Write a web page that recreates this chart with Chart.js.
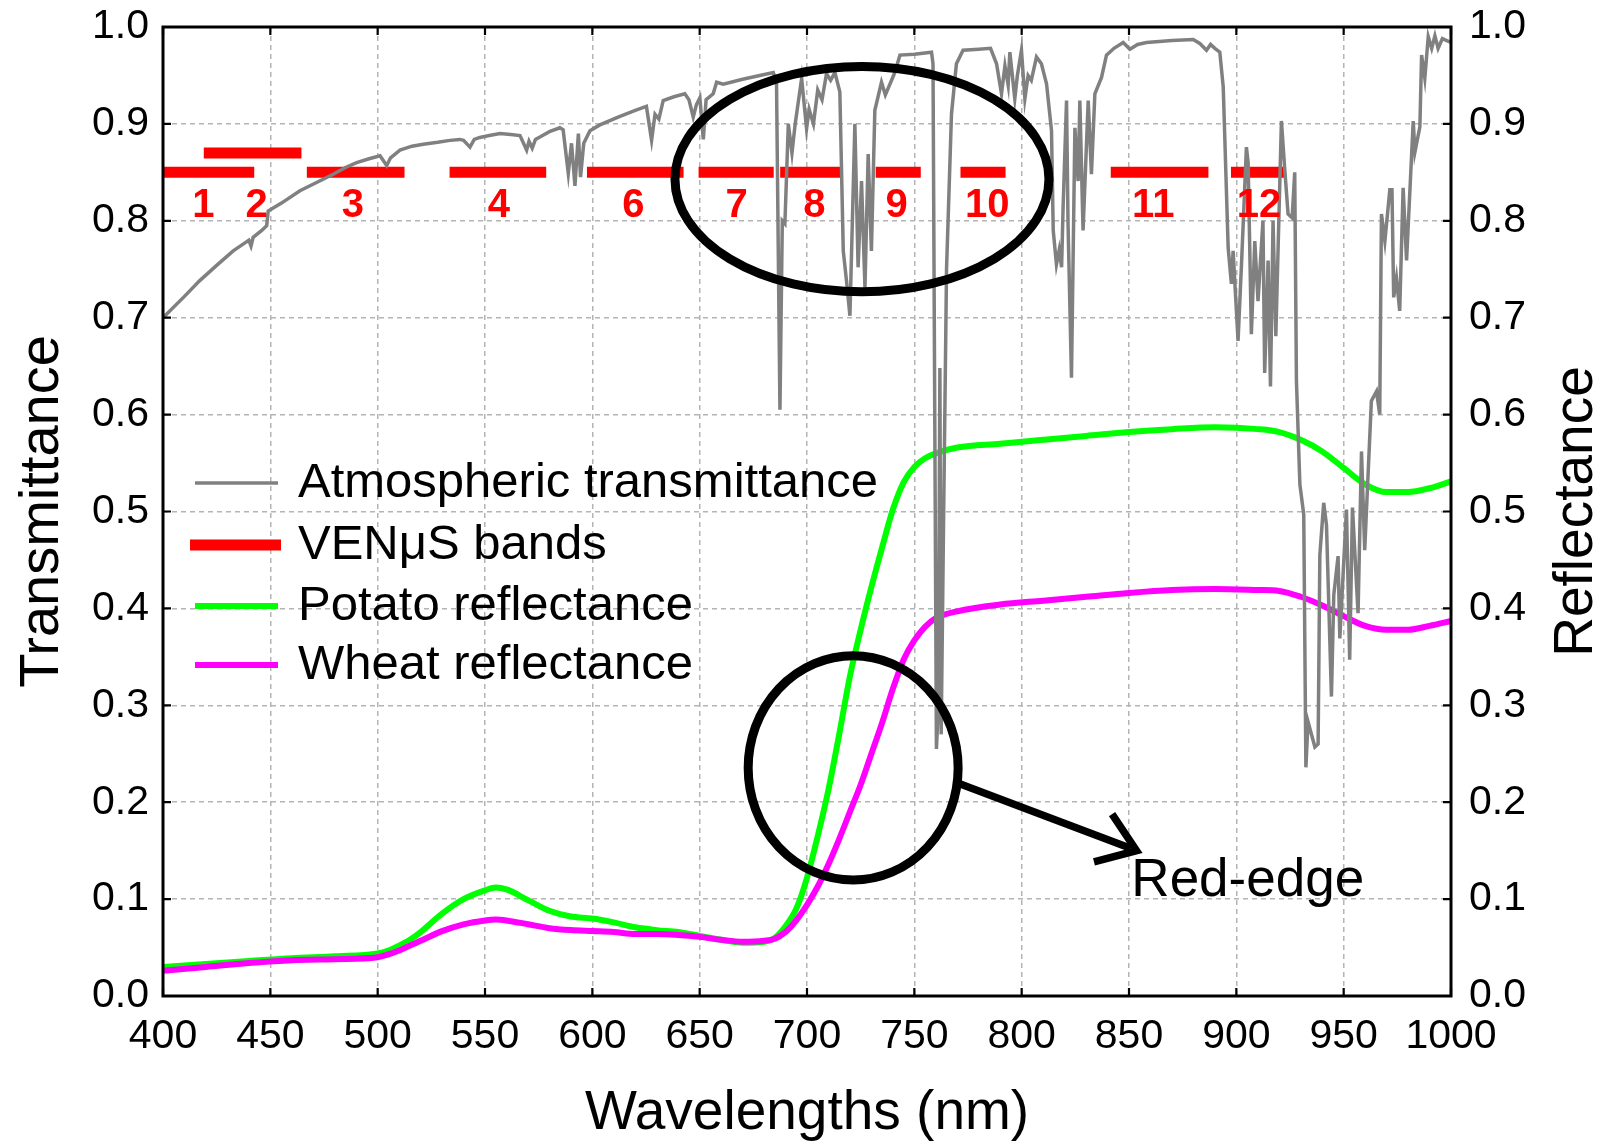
<!DOCTYPE html>
<html><head><meta charset="utf-8">
<script src="https://cdn.jsdelivr.net/npm/chart.js@4.4.1/dist/chart.umd.min.js"></script>
<style>html,body{margin:0;padding:0;background:#fff;}#wrap{width:1613px;height:1144px;}</style>
</head><body><div id="wrap"><canvas id="c" width="1613" height="1144"></canvas></div>
<script>
// ---------- DATA ----------
const xTicks = [400,450,500,550,600,650,700,750,800,850,900,950,1000];
const yTicks = [0,0.1,0.2,0.3,0.4,0.5,0.6,0.7,0.8,0.9,1.0];

// Atmospheric transmittance: [wavelength nm, transmittance]
const atmTransmittance = [
[400,0.700],[410,0.722],[417,0.738],[425,0.754],[432.7,0.769],[438,0.777],[440,0.780],[441,0.774],[442,0.783],[446,0.790],[448.3,0.795],[449,0.810],[455,0.818],[463.8,0.831],[472,0.840],[479.3,0.848],[485,0.855],[490.2,0.860],[496,0.864],[501.1,0.867],[504.2,0.857],[506,0.865],[510.4,0.873],[516,0.877],[521.2,0.879],[528,0.881],[533.7,0.883],[538.3,0.884],[540,0.883],[543,0.876],[545,0.884],[547.6,0.886],[552,0.888],[557,0.890],[562,0.889],[566.3,0.888],[569.4,0.873],[570.5,0.882],[572,0.875],[573.5,0.884],[576,0.887],[580,0.892],[584.9,0.896],[586.4,0.894],[588.8,0.849],[590.3,0.880],[591.9,0.836],[593.5,0.890],[594.5,0.845],[596,0.880],[598.9,0.893],[603.5,0.899],[612,0.907],[620,0.914],[625.2,0.918],[627.6,0.883],[629.2,0.910],[631,0.905],[633,0.924],[638,0.928],[643.1,0.931],[645,0.925],[647,0.907],[648.5,0.920],[650.1,0.927],[651.7,0.884],[653,0.925],[656.3,0.931],[657.9,0.943],[661,0.941],[670,0.946],[678,0.950],[684.3,0.953],[685.8,0.943],[687.4,0.605],[688.5,0.800],[689.7,0.797],[691.3,0.900],[693,0.870],[694.5,0.900],[697.5,0.947],[699.8,0.895],[701,0.915],[703,0.900],[705,0.935],[707,0.925],[709.1,0.952],[711,0.945],[713,0.953],[715.3,0.933],[716.9,0.769],[718.4,0.738],[720,0.702],[722.3,0.900],[723.8,0.752],[725.4,0.841],[727,0.731],[728.5,0.869],[730,0.769],[731.6,0.914],[734.7,0.943],[736.5,0.930],[740.9,0.953],[743.3,0.971],[750,0.972],[758,0.974],[758.7,0.962],[760.3,0.255],[761.2,0.300],[761.9,0.648],[762.5,0.270],[763.6,0.486],[765,0.750],[767.3,0.910],[769.6,0.962],[772.7,0.976],[780,0.977],[785.5,0.978],[788.3,0.962],[790.6,0.931],[792.2,0.960],[793.7,0.940],[794.5,0.974],[796.8,0.926],[798,0.950],[799.9,0.976],[801.5,0.926],[803,0.950],[804.5,0.945],[806.9,0.969],[809.2,0.962],[811.6,0.941],[813.9,0.893],[814.7,0.790],[816.2,0.755],[817.5,0.770],[818.6,0.752],[819.3,0.814],[820.9,0.924],[821.6,0.797],[823.2,0.638],[824.8,0.896],[826.3,0.841],[827.1,0.924],[828.6,0.790],[831,0.924],[832.5,0.848],[834.1,0.931],[837.2,0.948],[839.5,0.971],[843,0.978],[847.3,0.984],[850.4,0.977],[854,0.982],[858.2,0.984],[870,0.986],[879.9,0.987],[883,0.983],[886.1,0.976],[888,0.982],[890,0.978],[892.3,0.974],[893.9,0.938],[896.2,0.772],[897.7,0.735],[898.5,0.769],[900.8,0.676],[902.5,0.760],[904.7,0.876],[905.5,0.860],[907,0.683],[908.6,0.779],[910.1,0.717],[912.4,0.800],[913.2,0.643],[914.8,0.759],[915.9,0.629],[917.1,0.800],[918.4,0.681],[921,0.903],[922.5,0.855],[924.1,0.807],[926,0.803],[927.2,0.850],[928,0.635],[929.6,0.528],[931.4,0.497],[932.4,0.236],[933.4,0.283],[936.6,0.257],[938.1,0.260],[938.9,0.455],[940.7,0.509],[942,0.486],[944.3,0.309],[945.4,0.414],[947.4,0.454],[948.2,0.369],[951.3,0.502],[952.8,0.347],[954.1,0.504],[956.7,0.395],[958.3,0.562],[959.8,0.460],[962.9,0.614],[965.3,0.624],[966.8,0.600],[967.6,0.807],[969.2,0.779],[971.5,0.832],[972.5,0.832],[973.3,0.721],[974.6,0.741],[976.1,0.707],[977.7,0.834],[979.3,0.759],[982.4,0.903],[983.2,0.871],[985.5,0.897],[986.3,0.971],[987.8,0.947],[989.4,0.990],[991,0.978],[992.5,0.991],[994,0.978],[996,0.988],[998,0.986],[1000,0.984]
];

// Reflectance spectra
const refWl  = [400,420,440,460,480,500,505,510,515,520,530,540,550,555,560,570,580,590,600,610,620,630,640,650,660,670,680,685,690,695,700,705,710,715,720,725,730,735,740,745,750,755,760,770,790,810,830,850,870,890,910,920,930,940,950,960,970,980,990,1000];
const potato = [0.030,0.033,0.036,0.039,0.041,0.044,0.047,0.052,0.058,0.066,0.085,0.100,0.109,0.112,0.110,0.099,0.088,0.082,0.080,0.076,0.071,0.068,0.066,0.062,0.058,0.055,0.056,0.060,0.072,0.090,0.122,0.165,0.213,0.270,0.330,0.378,0.422,0.463,0.502,0.530,0.546,0.555,0.560,0.566,0.570,0.574,0.578,0.582,0.585,0.587,0.585,0.582,0.574,0.562,0.545,0.528,0.520,0.520,0.524,0.531];
const wheat  = [0.026,0.030,0.034,0.037,0.038,0.040,0.043,0.047,0.052,0.057,0.067,0.074,0.078,0.079,0.078,0.074,0.070,0.068,0.067,0.066,0.064,0.064,0.063,0.061,0.058,0.056,0.057,0.059,0.066,0.078,0.094,0.113,0.136,0.162,0.190,0.218,0.250,0.282,0.317,0.347,0.367,0.381,0.390,0.397,0.404,0.408,0.412,0.416,0.419,0.420,0.419,0.418,0.412,0.403,0.392,0.382,0.378,0.378,0.382,0.387];

// VENuS bands (nm)
const bandStart = [400,419,467,533.5,597.5,649.5,687.5,732,771.5,841.5,897.5];
const bandEnd   = [442.5,464.5,512.5,578.5,642.5,684.5,716.5,753,792.5,887,922.5];
const bandLevel = [0.85,0.87,0.85,0.85,0.85,0.85,0.85,0.85,0.85,0.85,0.85];
const bandNames = ['1','2','3','4','6','7','8','9','10','11','12'];
const bandLabelWl = [418.8,443.6,488.5,556.5,619.1,667.2,703.4,741.7,784,861.3,910.6];
const bandLabelLevel = 0.819;

const legendLabels = ['Atmospheric transmittance','VEN\u03BCS bands','Potato reflectance','Wheat reflectance'];

// ---------- BUILD ----------
const FONT = "'Liberation Sans', Arial, Helvetica, sans-serif";
Chart.defaults.font.family = FONT;
Chart.defaults.color = '#000';

const bandData = [];
bandStart.forEach((s,i)=>{ bandData.push({x:s,y:bandLevel[i]},{x:bandEnd[i],y:bandLevel[i]},{x:bandEnd[i],y:null}); });

const COLORS = {atm:'#808080', band:'#ff0000', potato:'#00ff00', wheat:'#ff00ff'};

const overlay = {
  id:'overlay',
  afterDatasetsDraw(chart){
    const {ctx, chartArea:a, scales} = chart;
    const x = scales.x, y = scales.y;
    ctx.save();
    // band numbers
    ctx.fillStyle = COLORS.band;
    const bf = 40;
    ctx.font = 'bold ' + bf + 'px ' + FONT;
    ctx.textAlign = 'center'; ctx.textBaseline = 'alphabetic';
    bandNames.forEach((n,i)=>{
      ctx.fillText(n, x.getPixelForValue(bandLabelWl[i]), y.getPixelForValue(bandLabelLevel) + 0.358*bf);
    });
    // ellipses (data coords: centre wl, centre value, half-width nm, half-height)
    const ell = [[725.6,0.843,87.1,0.1163],[721.5,0.2354,48.9,0.1158]];
    ctx.strokeStyle = '#000'; ctx.lineWidth = 9;
    ell.forEach(e=>{
      const cx = x.getPixelForValue(e[0]), cy = y.getPixelForValue(e[1]);
      const rx = x.getPixelForValue(e[0]+e[2]) - cx, ry = cy - y.getPixelForValue(e[1]+e[3]);
      ctx.beginPath(); ctx.ellipse(cx,cy,rx,ry,0,0,Math.PI*2); ctx.stroke();
    });
    // arrow
    const x0 = x.getPixelForValue(771.1), y0 = y.getPixelForValue(0.219);
    const x1 = x.getPixelForValue(853.5), y1 = y.getPixelForValue(0.150);
    ctx.lineWidth = 7.5; ctx.lineCap = 'butt';
    ctx.beginPath(); ctx.moveTo(x0,y0); ctx.lineTo(x1-6,y1-2.3); ctx.stroke();
    const ang = Math.atan2(y1-y0, x1-x0), L = 44, sp = 0.62;
    ctx.lineJoin = 'miter';
    ctx.beginPath();
    ctx.moveTo(x1 - L*Math.cos(ang-sp), y1 - L*Math.sin(ang-sp));
    ctx.lineTo(x1, y1);
    ctx.lineTo(x1 - L*Math.cos(ang+sp), y1 - L*Math.sin(ang+sp));
    ctx.stroke();
    // Red-edge text
    ctx.fillStyle = '#000'; ctx.font = '53px ' + FONT;
    ctx.textAlign = 'left'; ctx.textBaseline = 'middle';
    ctx.fillText('Red-edge', x.getPixelForValue(851.1), y.getPixelForValue(0.118));
    // legend
    const rows = [483, 545, 606, 665];
    const cols = [COLORS.atm, COLORS.band, COLORS.potato, COLORS.wheat];
    const widths = [3.5, 11, 6, 6];
    ctx.font = '49px ' + FONT; ctx.textBaseline = 'middle';
    rows.forEach((ry,i)=>{
      ctx.strokeStyle = cols[i]; ctx.lineWidth = widths[i];
      ctx.beginPath(); ctx.moveTo(i===1?190:195, ry); ctx.lineTo(i===1?281:278, ry); ctx.stroke();
      ctx.fillStyle = '#000'; ctx.fillText(legendLabels[i], 298, ry);
    });
    // frame & inward ticks
    ctx.strokeStyle = '#000'; ctx.lineWidth = 2.2;
    xTicks.forEach(v=>{
      const px = x.getPixelForValue(v);
      ctx.beginPath(); ctx.moveTo(px,a.bottom); ctx.lineTo(px,a.bottom-8);
      ctx.moveTo(px,a.top); ctx.lineTo(px,a.top+8); ctx.stroke();
    });
    yTicks.forEach(v=>{
      const py = y.getPixelForValue(v);
      ctx.beginPath(); ctx.moveTo(a.left,py); ctx.lineTo(a.left+8,py);
      ctx.moveTo(a.right,py); ctx.lineTo(a.right-8,py); ctx.stroke();
    });
    ctx.lineWidth = 3;
    ctx.strokeRect(a.left, a.top, a.right-a.left, a.bottom-a.top);
    // right axis title (reads bottom to top)
    ctx.save();
    ctx.translate(1577, (a.top+a.bottom)/2);
    ctx.rotate(-Math.PI/2);
    ctx.font = '55px ' + FONT; ctx.textAlign = 'center'; ctx.textBaseline = 'middle';
    ctx.fillStyle = '#000';
    ctx.fillText('Reflectance', 0, 0);
    ctx.restore();
    ctx.restore();
  }
};

const gridOpts = {color:'#b4b4b4', lineWidth:1.5, drawTicks:false};

new Chart(document.getElementById('c'), {
  type:'scatter',
  data:{datasets:[
    {label:legendLabels[0], data:atmTransmittance.map(p=>({x:p[0],y:p[1]})), showLine:true, borderColor:COLORS.atm, borderWidth:3.5, pointRadius:0, tension:0, yAxisID:'y', order:0},
    {label:legendLabels[3], data:refWl.map((w,i)=>({x:w,y:wheat[i]})), showLine:true, borderColor:COLORS.wheat, borderWidth:6, pointRadius:0, cubicInterpolationMode:'monotone', yAxisID:'y2', order:1},
    {label:legendLabels[2], data:refWl.map((w,i)=>({x:w,y:potato[i]})), showLine:true, borderColor:COLORS.potato, borderWidth:6, pointRadius:0, cubicInterpolationMode:'monotone', yAxisID:'y2', order:2},
    {label:legendLabels[1], data:bandData, showLine:true, spanGaps:false, borderColor:COLORS.band, borderWidth:11, borderCapStyle:'butt', pointRadius:0, tension:0, yAxisID:'y', order:3}
  ]},
  options:{
    responsive:false, animation:false,
    layout:{padding:{top:27,left:0,right:0,bottom:0}},
    plugins:{legend:{display:false}, tooltip:{enabled:false}},
    scales:{
      x:{type:'linear', position:'bottom', min:400, max:1000,
         afterBuildTicks:s=>{s.ticks = xTicks.map(v=>({value:v}));},
         afterFit:s=>{s.height = 148; s.paddingLeft = 0; s.paddingRight = 0;},
         grid:{...gridOpts}, border:{display:false, dash:[5,4]},
         ticks:{font:{size:41}, padding:16, maxRotation:0, autoSkip:false, callback:v=>String(v)},
         title:{display:true, text:'Wavelengths (nm)', font:{size:55, lineHeight:1.1}, padding:{top:0,bottom:0}}},
      y:{type:'linear', position:'left', min:0, max:1,
         afterBuildTicks:s=>{s.ticks = yTicks.map(v=>({value:v}));},
         afterFit:s=>{s.width = 163; s.paddingTop = 0; s.paddingBottom = 0;},
         grid:{...gridOpts}, border:{display:false, dash:[5,4]},
         ticks:{font:{size:41}, padding:14, autoSkip:false, callback:v=>v.toFixed(1)},
         title:{display:true, text:'Transmittance', font:{size:56}, padding:{top:9,bottom:0}}},
      y2:{type:'linear', position:'right', min:0, max:1,
         afterBuildTicks:s=>{s.ticks = yTicks.map(v=>({value:v}));},
         afterFit:s=>{s.width = 162; s.paddingTop = 0; s.paddingBottom = 0;},
         grid:{display:false, drawTicks:false}, border:{display:false},
         ticks:{font:{size:41}, padding:18, autoSkip:false, callback:v=>v.toFixed(1)},
         title:{display:false}}
    }
  },
  plugins:[overlay]
});
</script></body></html>
